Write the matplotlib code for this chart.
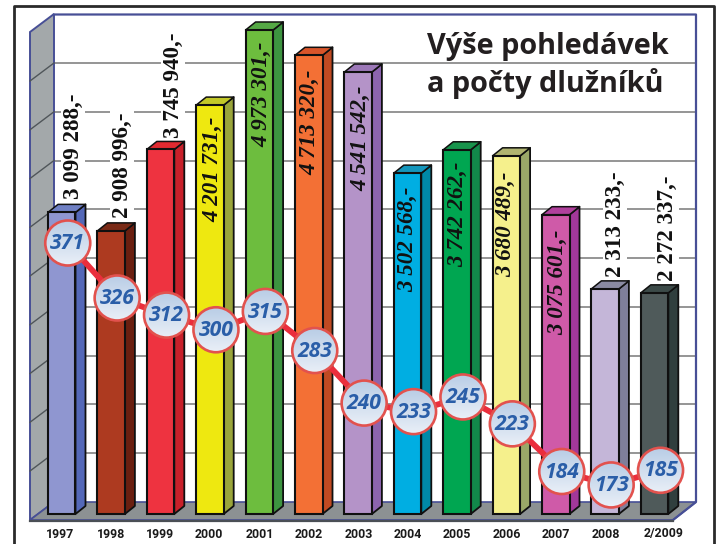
import numpy as np
import matplotlib
matplotlib.use("Agg")
import matplotlib.pyplot as plt
from matplotlib.patches import Polygon, Ellipse
from matplotlib.colors import to_rgb

years = ["1997","1998","1999","2000","2001","2002","2003","2004","2005","2006","2007","2008","2/2009"]
amounts = [3099288,2908996,3745940,4201731,4973301,4713320,4541542,3502568,3742262,3680489,3075601,2313233,2272337]
amount_labels = ["3 099 288,-","2 908 996,-","3 745 940,-","4 201 731,-","4 973 301,-","4 713 320,-","4 541 542,-",
                 "3 502 568,-","3 742 262,-","3 680 489,-","3 075 601,-","2 313 233,-","2 272 337,-"]
debtors = [371,326,312,300,315,283,240,233,245,223,184,173,185]
front = ["#8f96d0","#ad3a20","#ee3340","#eee810","#6dbd3e","#f37035","#b493c8","#00aee2","#00a651","#f5f08c","#cf5aa8","#c4b6d8","#4f5a5a"]
side  = ["#5468b8","#6a1f10","#c8202a","#9aa53a","#3d9440","#c04a22","#8c64ae","#0089a8","#12884a","#9aa868","#a2389a","#7f7f9a","#303f3e"]
top   = ["#6f80c4","#7a2a16","#e02a30","#c2c828","#55a845","#d8552a","#9c78b8","#1496bc","#18944c","#b0b470","#b0409c","#8a8aa2","#3c4a48"]
label_inside = [False,False,False,True,True,True,True,True,True,True,True,False,False]
# layout, in pixels of the 716x544 picture
label_x = [73,122,173,213,262,310,361,408,458,506,558,615,667]
label_bottom = [199,218,138,222,147,175,191,292,267,277,335,277,281]
year_x = [60,111,160,209,260,309,359,408,457,507,556,606,664]

W, H = 716, 544
BAR_W, STEP, X0, BASE, PX_PER = 27.5, 49.4, 61.75, 514.0, 484.0/4973301
DX, DY = 10.0, 8.0
fig = plt.figure(figsize=(W/100, H/100), dpi=100, facecolor="white")

# pixel-space axes for the frame and the 3D box
bg = fig.add_axes([0,0,1,1]); bg.set_xlim(0,W); bg.set_ylim(H,0); bg.axis("off")
bg.add_patch(Polygon([(30,32),(54,14),(54,502),(30,520)], fc="#a3a8aa", ec="#474f96", lw=1.4, zorder=1))
bg.add_patch(Polygon([(30,520),(54,502),(696,502),(673,520)], fc="#8c9193", ec="#474f96", lw=1.2, zorder=1))
bg.plot([30,673],[520.5,520.5], color="#4a4f55", lw=1.6, zorder=1.5)
bg.plot([54,696,696,673],[14.5,14.5,502,520], color="#474f96", lw=1.6, zorder=1.2)
for y in np.arange(63, 460, 48.75):
    bg.plot([54,696],[y,y], color="#8c8c8c", lw=1.3, zorder=0.8)
    bg.plot([30,54],[y+18,y], color="#50565a", lw=1.0, zorder=1.3)
bg.plot([13.5,13.5,714,714],[544,5.5,5.5,544], color="#2a2a2a", lw=2.0, zorder=1)

# data axes: bars on the amount scale, line on the debtor scale
ax = fig.add_axes([0,0,1,1]); ax.patch.set_alpha(0); ax.axis("off")
ax.set_xlim(-X0/STEP, (W-X0)/STEP)
ax.set_ylim(-(H-BASE)/PX_PER, BASE/PX_PER)
xs = np.arange(len(years))
dx, dy = DX/STEP, DY/PX_PER
w = BAR_W/STEP
for i, (v, f, s, t) in enumerate(zip(amounts, front, side, top)):
    l, r = i-w/2, i+w/2
    ax.add_patch(Polygon([(r,0),(r+dx,dy),(r+dx,v+dy),(r,v)], fc=s, ec="#101010", lw=1.3, zorder=2, joinstyle="round"))
    ax.add_patch(Polygon([(l,v),(l+dx,v+dy),(r+dx,v+dy),(r,v)], fc=t, ec="#101010", lw=1.1, zorder=2, joinstyle="round"))
ax.bar(xs, amounts, width=w, color=front, edgecolor="#101010", linewidth=1.5, zorder=3)

# labels
for txt, inside, x, b in zip(amount_labels, label_inside, label_x, label_bottom):
    bgc = dict(facecolor="white", edgecolor="none", pad=1.0) if not inside else None
    fig.text(x/W, 1-b/H, txt, rotation=90, ha="center", va="bottom", family="Liberation Serif",
             fontsize=16.6, color="#111111", zorder=5,
             fontweight="bold", fontstyle="italic" if inside else "normal",
             bbox=bgc)
for x, y in zip(year_x, years):
    fig.text(x/W, 1-534/H, y, ha="center", va="center",
            family="Roboto", fontweight="bold", fontsize=8.9, color="#1a1a1a", zorder=4)

fig.text(427/W, 1-54/H, "Výše pohledávek", family="Open Sans", fontweight="bold", fontsize=20.8,
         color="#231f20", ha="left", va="baseline", zorder=6)
fig.text(427/W, 1-92/H, "a počty dlužníků", family="Open Sans", fontweight="bold", fontsize=20.8,
         color="#231f20", ha="left", va="baseline", zorder=6)

ax2 = fig.add_axes([0,0,1,1]); ax2.patch.set_alpha(0); ax2.axis("off"); ax2.set_zorder(10)
SCALE = 1.222
ax2.plot(xs, debtors, color="#ea2e3c", lw=4.2, zorder=2, solid_capstyle="butt")
R = 22.5
rx, ry = R/STEP, R/SCALE
c1, c2 = np.array(to_rgb("#b9cde6")), np.array(to_rgb("#e9eff7"))
grad = np.linspace(0,1,64)[:,None,None]
img = c1*(1-grad) + c2*grad
for i, n in enumerate(debtors):
    im = ax2.imshow(img, extent=(i-rx, i+rx, n-ry, n+ry), origin="upper", aspect="auto", zorder=3)
    clip = Ellipse((i,n), 2*rx, 2*ry, transform=ax2.transData)
    im.set_clip_path(clip)
    ax2.add_patch(Ellipse((i,n), 2*rx, 2*ry, fc="none", ec="#e2524e", lw=1.9, zorder=4))
    ax2.text(i, n-0.5, str(n), ha="center", va="center", family="Open Sans", fontweight="bold",
             fontstyle="italic", fontsize=15.2, color="#2a5ea8", zorder=5)
ax2.set_xlim(-(X0+6)/STEP, (W-X0-6)/STEP)
ax2.set_ylim(371-(H-243)/SCALE, 371+243/SCALE)
fig.savefig("out.png", dpi=100, facecolor="white")
